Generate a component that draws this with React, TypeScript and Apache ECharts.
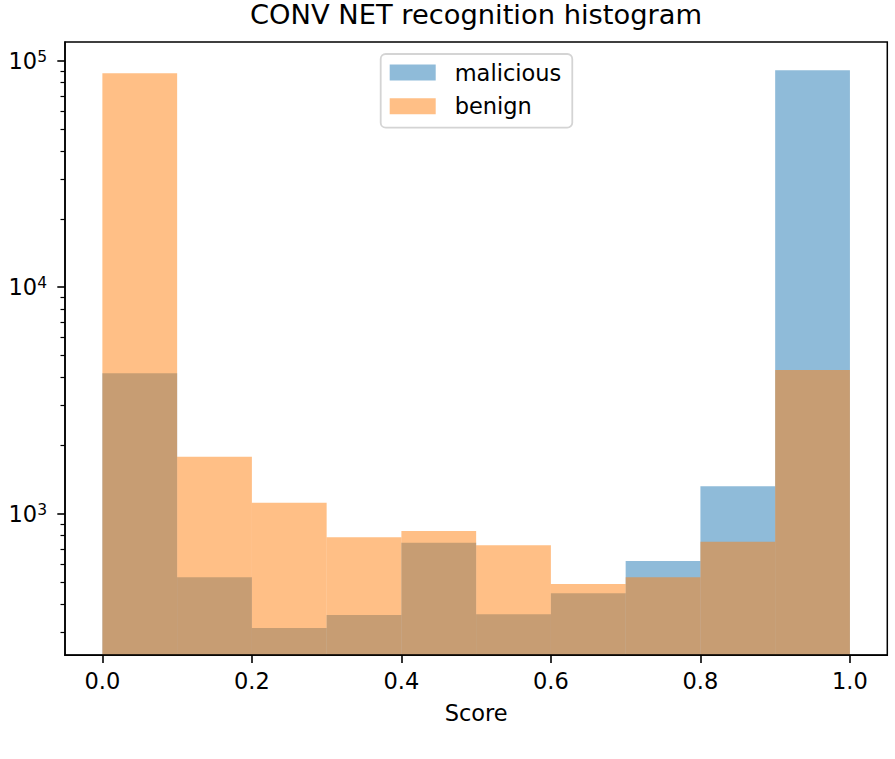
import React, { useEffect, useRef } from "react";
import * as echarts from "echarts";

const binEdges = [0.0, 0.1, 0.2, 0.3, 0.4, 0.5, 0.6, 0.7, 0.8, 0.9, 1.0];
const maliciousCounts = [4170, 524, 313, 357, 745, 360, 445, 618, 1321, 90700];
const benignCounts = [87970, 1785, 1118, 787, 839, 725, 489, 524, 752, 4308];
const seriesNames = ["malicious", "benign"];
const xTickValues = [0.0, 0.2, 0.4, 0.6, 0.8, 1.0];
const yMajorTicks = [1000, 10000, 100000];
const yMinorTicks = [
  300, 400, 500, 600, 700, 800, 900,
  2000, 3000, 4000, 5000, 6000, 7000, 8000, 9000,
  20000, 30000, 40000, 50000, 60000, 70000, 80000, 90000,
];
const titleText = "CONV NET recognition histogram";
const xName = "Score";

const FONT = "DejaVu Sans";
const Y_MIN = 237.3;
const Y_MAX = 120950;

function toBins(counts: number[]) {
  return counts.map((c, i) => [binEdges[i], binEdges[i + 1], c]);
}

function makeRender(color: string) {
  return (params: any, api: any) => {
    const x0 = api.value(0);
    const x1 = api.value(1);
    const v = api.value(2);
    const p0 = api.coord([x0, v]);
    const p1 = api.coord([x1, v]);
    const cs = params.coordSys;
    const bottom = cs.y + cs.height;
    return {
      type: "rect",
      shape: { x: p0[0], y: p0[1], width: p1[0] - p0[0], height: bottom - p0[1] },
      style: { fill: color, opacity: 0.5 },
    };
  };
}

export default function App() {
  const ref = useRef<HTMLDivElement>(null);
  useEffect(() => {
    if (!ref.current) return;
    const chart = echarts.init(ref.current, null, { renderer: "svg" });
    const option: any = {
      animation: false,
      backgroundColor: "#ffffff",
      textStyle: { fontFamily: FONT },
      title: {
        text: titleText,
        left: 476,
        top: 1,
        textAlign: "center",
        padding: 0,
        textStyle: { fontFamily: FONT, fontSize: 27.3, fontWeight: "normal", color: "#000" },
      },
      legend: {
        orient: "vertical",
        left: 380.7,
        top: 54,
        padding: [7, 11, 10, 9],
        itemWidth: 46,
        itemHeight: 16,
        itemGap: 10.7,
        icon: "rect",
        backgroundColor: "rgba(255,255,255,0.8)",
        borderColor: "#d4d4d4",
        borderWidth: 1.8,
        borderRadius: 5,
        textStyle: { fontFamily: FONT, fontSize: 22.5, color: "#000", padding: [0, 0, 0, 14] },
        data: [
          { name: seriesNames[0], itemStyle: { color: "#8fbbd9" } },
          { name: seriesNames[1], itemStyle: { color: "#ffbf86" } },
        ],
      },
      grid: {
        left: 65,
        right: 7.7,
        top: 42,
        bottom: 103.8,
        show: true,
        borderColor: "#000",
        borderWidth: 1.5,
        backgroundColor: "transparent",
        containLabel: false,
      },
      xAxis: {
        type: "value",
        min: -0.05,
        max: 1.05,
        z: 10,
        name: xName,
        nameLocation: "middle",
        nameGap: 46,
        nameTextStyle: { fontFamily: FONT, fontSize: 22.5, color: "#000" },
        axisLine: { show: true, onZero: false, lineStyle: { color: "#000", width: 1.5 } },
        axisTick: {
          show: true,
          customValues: xTickValues,
          length: 7.7,
          lineStyle: { color: "#000", width: 1.6 },
        },
        axisLabel: {
          customValues: xTickValues,
          margin: 14,
          fontFamily: FONT,
          fontSize: 22.5,
          color: "#000",
          formatter: (v: number) => v.toFixed(1),
        },
        splitLine: { show: false },
      },
      yAxis: [
        {
          type: "log",
          logBase: 10,
          min: Y_MIN,
          max: Y_MAX,
          z: 10,
          position: "left",
          axisLine: { show: true, onZero: false, lineStyle: { color: "#000", width: 1.5 } },
          axisTick: {
            show: true,
            customValues: yMajorTicks,
            length: 7.7,
            lineStyle: { color: "#000", width: 1.6 },
          },
          axisLabel: {
            customValues: yMajorTicks,
            margin: 18,
            color: "#000",
            formatter: (v: number) => `{b|10}{s|${Math.round(Math.log10(v))}}`,
            rich: {
              b: { fontFamily: FONT, fontSize: 22.5, lineHeight: 24, color: "#000" },
              s: { fontFamily: FONT, fontSize: 15.5, lineHeight: 14, verticalAlign: "top", color: "#000" },
            },
          },
          splitLine: { show: false },
        },
        {
          type: "log",
          logBase: 10,
          min: Y_MIN,
          max: Y_MAX,
          z: 10,
          position: "left",
          offset: 0,
          axisLine: { show: false, onZero: false },
          axisTick: {
            show: true,
            customValues: yMinorTicks,
            length: 4.5,
            lineStyle: { color: "#000", width: 1.2 },
          },
          axisLabel: { show: false },
          splitLine: { show: false },
        },
      ],
      series: [
        {
          name: seriesNames[0],
          type: "custom",
          itemStyle: { color: "#8fbbd9" },
          encode: { x: [0, 1], y: 2 },
          renderItem: makeRender("#1f77b4"),
          data: toBins(maliciousCounts),
          z: 2,
        },
        {
          name: seriesNames[1],
          type: "custom",
          itemStyle: { color: "#ffbf86" },
          encode: { x: [0, 1], y: 2 },
          renderItem: makeRender("#ff7f0e"),
          data: toBins(benignCounts),
          z: 3,
        },
      ],
    };
    chart.setOption(option);
    return () => chart.dispose();
  }, []);
  return (
    <div
      ref={ref}
      style={{ position: "fixed", left: 0, top: 0, width: 895, height: 759, background: "#fff" }}
    />
  );
}
